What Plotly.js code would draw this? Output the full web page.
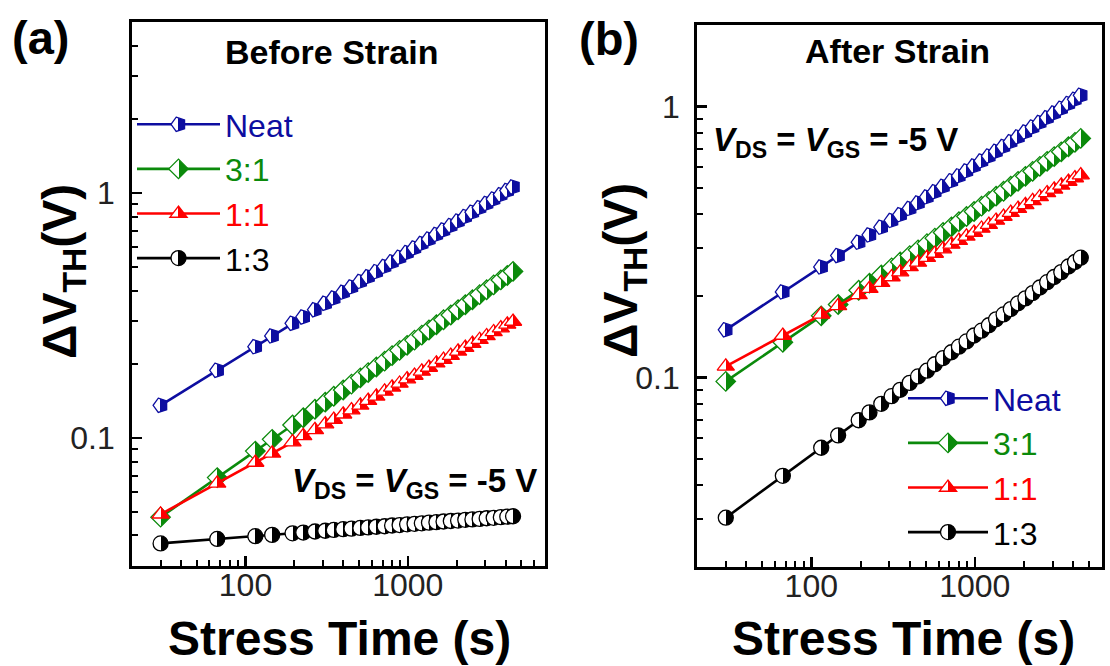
<!DOCTYPE html>
<html>
<head>
<meta charset="utf-8">
<script src="https://cdn.plot.ly/plotly-3.0.1.min.js"></script>
<style>
html, body { margin: 0; padding: 0; background: #ffffff; }
#chart { width: 1110px; height: 666px; }
</style>
</head>
<body>
<div id="chart"></div>
<script>
// ---------------- data ----------------
const stressTime = [30, 67, 115, 146, 195, 227, 268, 310, 350, 400, 450, 510, 570, 640, 720, 800, 890, 990, 1100, 1220, 1350, 1500, 1660, 1840, 2040, 2260, 2500, 2770, 3060, 3380, 3740, 4100, 4450];

const seriesNames = ['Neat', '3:1', '1:1', '1:3'];

// (a) Before Strain : ΔV_TH (V)
const beforeNeat = [0.136,0.189,0.236,0.261,0.294,0.312,0.334,0.355,0.373,0.394,0.414,0.436,0.456,0.478,0.502,0.524,0.547,0.572,0.597,0.623,0.649,0.678,0.707,0.737,0.769,0.802,0.836,0.872,0.908,0.946,0.986,1.025,1.06];
const before31   = [0.0475,0.0689,0.0884,0.0987,0.113,0.121,0.131,0.140,0.148,0.157,0.166,0.176,0.185,0.195,0.206,0.217,0.228,0.239,0.251,0.263,0.276,0.290,0.304,0.318,0.334,0.350,0.367,0.385,0.403,0.422,0.442,0.461,0.479];
const before11   = [0.0488,0.0653,0.0794,0.0866,0.0962,0.102,0.108,0.114,0.119,0.125,0.130,0.136,0.142,0.148,0.155,0.161,0.167,0.174,0.180,0.187,0.194,0.202,0.209,0.217,0.226,0.234,0.243,0.252,0.261,0.271,0.281,0.291,0.299];
const before13   = [0.0371,0.0387,0.0397,0.0402,0.0408,0.0411,0.0415,0.0418,0.0421,0.0424,0.0426,0.0429,0.0431,0.0434,0.0436,0.0439,0.0441,0.0444,0.0446,0.0448,0.0451,0.0453,0.0456,0.0458,0.0460,0.0463,0.0465,0.0467,0.0470,0.0472,0.0475,0.0477,0.0479];

// (b) After Strain : ΔV_TH (V)
const afterNeat = [0.150,0.207,0.256,0.282,0.316,0.336,0.359,0.380,0.399,0.421,0.441,0.464,0.485,0.508,0.532,0.555,0.579,0.604,0.630,0.657,0.684,0.713,0.742,0.773,0.806,0.840,0.874,0.910,0.947,0.985,1.026,1.064,1.100];
const after31   = [0.0968,0.135,0.169,0.186,0.210,0.223,0.239,0.254,0.267,0.282,0.296,0.312,0.327,0.343,0.360,0.376,0.393,0.410,0.429,0.447,0.467,0.487,0.508,0.530,0.553,0.577,0.602,0.628,0.654,0.681,0.711,0.738,0.763];
const after11   = [0.110,0.143,0.171,0.184,0.202,0.213,0.224,0.235,0.245,0.256,0.266,0.277,0.287,0.298,0.310,0.320,0.332,0.343,0.355,0.367,0.380,0.393,0.406,0.420,0.434,0.449,0.464,0.480,0.495,0.512,0.529,0.545,0.559];
const after13   = [0.0304,0.0434,0.0551,0.0612,0.0696,0.0744,0.0800,0.0854,0.0901,0.0956,0.101,0.106,0.112,0.118,0.124,0.130,0.136,0.143,0.149,0.156,0.164,0.171,0.179,0.188,0.196,0.205,0.215,0.225,0.235,0.245,0.257,0.267,0.277];

// ---------------- style ----------------
const FONT = 'Liberation Sans, Arial, Helvetica, sans-serif';
const colors  = ['#0d0da0', '#0b8a0b', '#ff0000', '#000000'];
const symbols = ['pentagon', 'diamond', 'triangle-up', 'circle'];
const angles  = [-90, 0, 0, 0];

function makeTrace(i, y, xa, ya, legendId) {
  return {
    type: 'scatter', mode: 'lines+markers',
    x: stressTime, y: y, xaxis: xa, yaxis: ya,
    name: '<span style="color:' + colors[i] + '">' + seriesNames[i] + '</span>',
    legend: legendId,
    line: { color: colors[i], width: 2.6 },
    marker: {
      symbol: symbols[i], angle: angles[i], size: 15, color: '#ffffff',
      gradient: { type: 'horizontal', color: colors[i] },
      line: { color: colors[i], width: 1.3 }
    }
  };
}

const traces = [
  makeTrace(0, beforeNeat, 'x', 'y', 'legend'),
  makeTrace(1, before31,   'x', 'y', 'legend'),
  makeTrace(2, before11,   'x', 'y', 'legend'),
  makeTrace(3, before13,   'x', 'y', 'legend'),
  makeTrace(0, afterNeat, 'x2', 'y2', 'legend2'),
  makeTrace(1, after31,   'x2', 'y2', 'legend2'),
  makeTrace(2, after11,   'x2', 'y2', 'legend2'),
  makeTrace(3, after13,   'x2', 'y2', 'legend2')
];

function logAxis(range, domain, anchor, isY) {
  return {
    type: 'log', range: range, domain: domain, anchor: anchor,
    showline: true, linewidth: 2.8, linecolor: '#000', mirror: true,
    ticks: 'inside', ticklen: 10, tickwidth: 2.5, tickcolor: '#000',
    dtick: 1, exponentformat: 'none',
    ticklabelstandoff: isY ? 8 : -11,
    showgrid: false, zeroline: false,
    tickfont: { family: FONT, size: 32, color: '#222' },
    minor: { ticks: 'inside', ticklen: 6, tickwidth: 2, tickcolor: '#000', dtick: 'D1', showgrid: false }
  };
}

const W = 1110, H = 666;
const px = v => v / W;
const py = v => 1 - v / H;

function label(text, x, y, size, extra) {
  return Object.assign({
    text: text, x: px(x), y: py(y), xref: 'paper', yref: 'paper',
    xanchor: 'center', yanchor: 'middle', showarrow: false,
    font: { family: FONT, size: size, color: '#000' }
  }, extra || {});
}

const vText = '<b><i>V</i><sub>DS</sub> = <i>V</i><sub>GS</sub> = -5 V</b>';
const yTitle = '<b>ΔV<sub>TH</sub>(V)</b>';
const xTitle = '<b>Stress Time (s)</b>';

const layout = {
  width: W, height: H,
  margin: { l: 0, r: 0, t: 0, b: 0 },
  paper_bgcolor: '#ffffff', plot_bgcolor: '#ffffff',
  font: { family: FONT, color: '#000' },
  xaxis:  logAxis([Math.log10(20), Math.log10(7000)], [px(132), px(545)], 'y', false),
  yaxis:  logAxis([Math.log10(0.03), Math.log10(5)], [py(566), py(22)], 'x', true),
  xaxis2: logAxis([Math.log10(20), Math.log10(6000)], [px(697), px(1102)], 'y2', false),
  yaxis2: logAxis([Math.log10(0.02), Math.log10(2)], [py(567), py(25)], 'x2', true),
  showlegend: true,
  legend: {
    x: px(132), y: py(97), xanchor: 'left', yanchor: 'top',
    bgcolor: 'rgba(0,0,0,0)', borderwidth: 0,
    font: { family: FONT, size: 32 }, itemwidth: 83, tracegroupgap: 0
  },
  legend2: {
    x: px(903), y: py(371), xanchor: 'left', yanchor: 'top',
    bgcolor: 'rgba(0,0,0,0)', borderwidth: 0,
    font: { family: FONT, size: 32 }, itemwidth: 80, tracegroupgap: 0
  },
  annotations: [
    label('<b>(a)</b>', 40, 37, 47),
    label('<b>(b)</b>', 609, 39, 47),
    label('<b>Before Strain</b>', 332, 52, 34),
    label('<b>After Strain</b>', 897, 51, 34),
    label(vText, 290, 483, 33, { xanchor: 'left' }),
    label(vText, 711, 142, 33, { xanchor: 'left' }),
    label(yTitle, 63, 272, 48, { textangle: -90 }),
    label(yTitle, 624, 271, 48, { textangle: -90 }),
    label(xTitle, 339, 638, 48),
    label(xTitle, 903, 638, 48)
  ]
};

Plotly.newPlot('chart', traces, layout, { displayModeBar: false, staticPlot: true }).then(function (gd) {
  // make the horizontal marker gradient a sharp half fill (left open, right filled)
  gd.querySelectorAll('linearGradient stop').forEach(function (s) { s.setAttribute('offset', '50%'); });
});
</script>
</body>
</html>
